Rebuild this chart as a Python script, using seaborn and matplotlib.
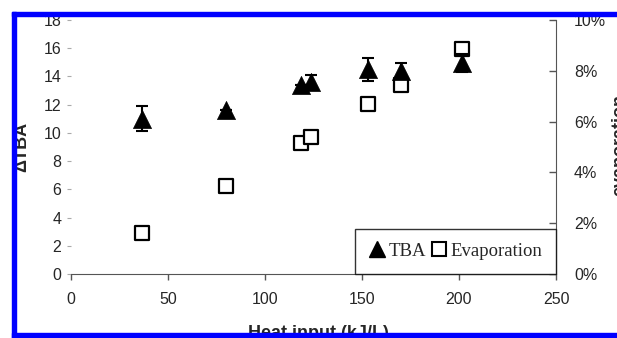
import numpy as np
import pandas as pd
import matplotlib
matplotlib.use("Agg")
import matplotlib.pyplot as plt
import seaborn as sns
from matplotlib.lines import Line2D
from matplotlib.patches import Rectangle
from matplotlib.ticker import PercentFormatter

# -------------------------------
# Data
# -------------------------------
heat_input = [36.5, 80, 118.5, 123.5, 153, 170, 201.5]      # kJ/L
tba = [11.0, 11.6, 13.4, 13.6, 14.5, 14.4, 14.95]          # delta TBA
tba_err = [0.9, 0.0, 0.0, 0.5, 0.8, 0.55, 0.65]
evaporation = [1.6, 3.45, 5.15, 5.4, 6.7, 7.45, 8.85]      # percent

x_ticks = [0, 50, 100, 150, 200, 250]
y_ticks = [0, 2, 4, 6, 8, 10, 12, 14, 16, 18]
pct_ticks = [0, 2, 4, 6, 8, 10]

df = pd.DataFrame({"heat": heat_input, "tba": tba, "err": tba_err,
                   "evap": evaporation})

# -------------------------------
# Style
# -------------------------------
sns.set_style("white")
plt.rcParams["font.family"] = ["Liberation Sans", "DejaVu Sans"]

fig = plt.figure(figsize=(6.17, 3.38), dpi=100)
ax = fig.add_axes([71 / 617, 64 / 338, 485 / 617, 254 / 338])
ax2 = ax.twinx()

# TBA triangles with error bars
ax.errorbar(df["heat"], df["tba"], yerr=df["err"], fmt="none", ecolor="black",
            elinewidth=1.5, capsize=4.5, capthick=1.5, zorder=2)
sns.scatterplot(data=df, x="heat", y="tba", marker="^", s=170, color="black",
                edgecolor="black", linewidth=0.5, ax=ax, zorder=3)

# Evaporation squares on the right axis
sns.scatterplot(data=df, x="heat", y="evap", marker="s", s=115, facecolor="white",
                edgecolor="black", linewidth=1.6, ax=ax2, zorder=3)

ax.set_xlim(0, 250)
ax.set_ylim(0, 18)
ax2.set_ylim(0, 10)
ax.set_xticks(x_ticks)
ax.set_yticks(y_ticks)
ax2.set_yticks(pct_ticks)
ax2.yaxis.set_major_formatter(PercentFormatter(decimals=0))

for a in (ax, ax2):
    for s in a.spines.values():
        s.set_visible(False)
ax.spines["bottom"].set_visible(True)
ax.spines["bottom"].set_color("#555555")
ax2.spines["right"].set_visible(True)
ax2.spines["right"].set_color("#555555")

ax.tick_params(axis="x", direction="out", length=4, width=1, color="#555555",
               labelsize=11.5, pad=9, bottom=True)
ax.tick_params(axis="y", direction="out", length=3, width=0.8, color="#aaaaaa",
               labelsize=11.5, pad=4, left=True)
ax2.tick_params(axis="y", direction="in", length=5, width=1, color="#555555",
                labelsize=11.5, pad=13, right=True)

ax.set_xlabel("Heat input (kJ/L)", fontsize=13, fontweight="bold")
ax.xaxis.set_label_coords(0.51, -0.20)
ax.set_ylabel("ΔTBA", fontsize=13, fontweight="bold")
ax.yaxis.set_label_coords(-0.085, 0.5)
ax2.set_ylabel("")
fig.text(611 / 617, 1 - 145 / 338, "evaporation", rotation=90, ha="left",
         va="center", fontsize=13, fontweight="bold")

# Legend
handles = [
    Line2D([], [], marker="^", linestyle="none", color="black", markersize=12),
    Line2D([], [], marker="s", linestyle="none", markerfacecolor="white",
           markeredgecolor="black", markeredgewidth=1.5, markersize=10),
]
leg = ax.legend(handles, ["TBA", "Evaporation"], loc="lower right",
                bbox_to_anchor=(1, 0), borderaxespad=0, ncol=2, frameon=True,
                fancybox=False, handlelength=0.8, handletextpad=0.2,
                columnspacing=0.3, borderpad=0.75,
                prop={"family": ["Liberation Serif"], "size": 13.5})
leg.get_frame().set_edgecolor("black")
leg.get_frame().set_linewidth(1.0)
leg.set_zorder(5)
ax.set_zorder(ax2.get_zorder() + 1)
ax.patch.set_visible(False)

# Blue frame (left, top and bottom edges)
blue = (0, 0, 1)
W, H = 617, 338
fig.patches.append(Rectangle((12 / W, 0), 4 / W, 326 / H, transform=fig.transFigure,
                             color=blue, zorder=10))
fig.patches.append(Rectangle((12 / W, 322 / H), 605 / W, 4 / H, transform=fig.transFigure,
                             color=blue, zorder=10))
fig.patches.append(Rectangle((12 / W, 0), 605 / W, 5 / H, transform=fig.transFigure,
                             color=blue, zorder=10))

fig.savefig("out.png", dpi=100)
